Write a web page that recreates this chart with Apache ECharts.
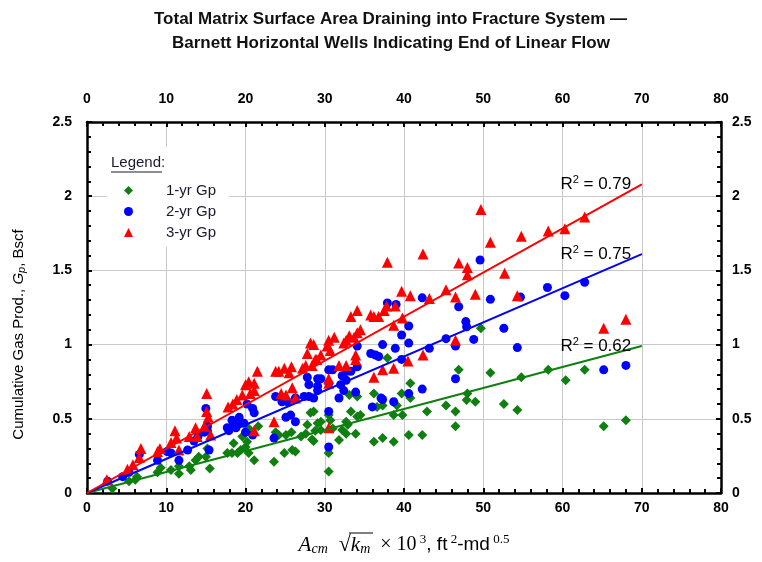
<!DOCTYPE html>
<html>
<head>
<meta charset="utf-8">
<script src="https://cdn.jsdelivr.net/npm/echarts@6/dist/echarts.min.js"></script>
<style>
	html,body{margin:0;padding:0;background:#fff;}
	#GasChart{width:762px;height:562px;}
</style>
</head>
<body>
<div id="GasChart"></div>
<script>
//坐标轴刻度
var xTicks = [0, 80, 10];
var yTicks = [0, 2.5, 0.5];

//1-yr Gp  [x, Gp]
var gp1yr = [
	[3.2,0.03],[5.3,0.08],[6.1,0.09],[6.3,0.11],[8.9,0.14],[9.3,0.17],[10.6,0.155],[11.6,0.13],[11.6,0.18],[12.9,0.18],[13.1,0.155],[13.7,0.22],[14.1,0.245],[15.0,0.245],[15.5,0.165],[15.2,0.30],
	[17.7,0.27],[18.3,0.27],[18.5,0.335],[19.0,0.27],[19.4,0.29],[19.6,0.38],[20.0,0.31],[20.2,0.345],[20.4,0.435],[20.4,0.27],[21.1,0.22],[21.6,0.45],
	[23.6,0.21],[23.8,0.41],[24.2,0.39],[24.9,0.27],[25.1,0.39],[25.8,0.41],[25.9,0.29],[26.3,0.28],[27.0,0.38],[27.6,0.40],[27.8,0.46],[28.2,0.54],[28.4,0.36],[28.8,0.42],[29.1,0.47],[28.6,0.55],[28.6,0.35],[29.5,0.48],[29.5,0.425],
	[30.5,0.525],[30.7,0.49],[31.0,0.435],[31.8,0.357],[32.2,0.425],[32.7,0.48],[32.7,0.40],[32.9,0.46],[33.3,0.55],[33.1,0.66],[33.9,0.40],[34.1,0.515],[34.5,0.525],[34.1,0.65],[30.5,0.27],[30.5,0.145],
	[36.2,0.67],[36.2,0.345],[37.3,0.37],[36.6,0.58],[37.3,0.59],[37.9,0.91],[38.7,0.525],[38.7,0.345],[39.1,0.59],[39.8,0.525],[39.7,0.67],[40.6,0.39],[40.8,0.74],[40.8,0.64],[42.3,0.39],[42.9,0.55],
	[45.3,0.59],[46.5,0.55],[46.5,0.45],[46.9,0.83],[48.0,0.67],[47.9,0.627],[49.0,0.615],[49.7,1.11],[50.9,0.81],[52.6,0.60],[54.3,0.56],[54.8,0.78],[58.2,0.83],[60.4,0.76],[62.8,0.83],[65.2,0.45],[68.0,0.49]
];
//2-yr Gp
var gp2yr = [
	[2.6,0.08],[4.5,0.11],[5.3,0.14],[6.6,0.26],[8.9,0.22],[10.1,0.28],[10.6,0.27],[11.6,0.22],[12.7,0.29],[13.5,0.35],[14.0,0.38],[14.8,0.41],[15.0,0.57],[15.2,0.45],[15.4,0.29],[15.2,0.42],
	[17.7,0.44],[18.3,0.49],[18.8,0.44],[19.2,0.51],[19.8,0.47],[20.2,0.60],[20.9,0.57],[21.1,0.54],[20.9,0.39],[20.0,0.41],[17.9,0.42],[18.5,0.47],[19.2,0.47],
	[23.6,0.37],[23.8,0.65],[24.6,0.615],[25.3,0.615],[25.1,0.51],[25.7,0.525],[26.3,0.48],[26.3,0.64],[27.4,0.65],[27.8,0.78],[28.0,0.73],[28.0,0.65],[28.6,0.64],[29.1,0.72],[29.1,0.77],[29.5,0.77],[29.1,0.69],
	[30.5,0.83],[31.0,0.83],[32.0,0.73],[32.2,0.79],[32.7,0.76],[32.4,0.69],[31.8,0.64],[32.8,0.82],[33.3,0.82],[34.1,0.85],[34.1,0.99],[33.9,0.68],[30.5,0.74],[30.5,0.55],[30.5,0.31],[36.0,0.58],[37.3,0.63],[38.7,0.615],[40.6,0.67],[42.3,0.70],
	[35.8,0.94],[36.4,0.93],[36.8,0.92],[37.3,1.00],[38.9,0.975],[37.9,1.28],[39.0,1.27],[39.7,1.065],[40.6,1.01],[40.6,1.125],[39.7,0.90],[42.3,1.315],[43.2,0.975],[37.1,0.64],
	[45.3,1.04],[46.5,0.99],[46.9,1.255],[47.8,1.155],[46.5,0.77],[47.9,1.12],[48.8,1.035],[49.6,1.57],[50.9,1.305],[52.6,1.11],[54.3,0.98],[54.7,1.32],[58.1,1.385],[60.3,1.33],[62.8,1.42],[65.2,0.83],[68.0,0.86]
];
//3-yr Gp
var gp3yr = [
	[2.5,0.09],[5.1,0.16],[5.8,0.19],[6.6,0.24],[6.8,0.30],[8.9,0.28],[9.2,0.30],[10.6,0.34],[11.1,0.42],[11.3,0.37],[11.6,0.29],[12.9,0.38],[13.7,0.44],[13.9,0.38],[15.1,0.67],[15.1,0.55],[15.3,0.51],[15.6,0.39],[14.8,0.45],
	[17.8,0.58],[18.4,0.60],[18.9,0.63],[19.6,0.66],[20.0,0.73],[20.4,0.75],[21.1,0.74],[21.1,0.42],[21.5,0.82],[20.6,0.67],[21.1,0.69],
	[23.6,0.48],[23.8,0.82],[24.2,0.82],[24.9,0.84],[25.5,0.81],[25.8,0.85],[24.5,0.67],[25.1,0.66],[25.9,0.71],[26.3,0.64],[27.2,0.84],[27.6,0.86],[27.8,0.94],[28.2,1.01],[28.4,0.86],[28.8,0.90],[29.0,0.90],[28.6,1.00],[29.5,0.93],
	[30.3,0.99],[30.5,1.03],[30.7,0.96],[31.2,1.05],[32.4,1.01],[32.7,1.03],[33.1,1.06],[33.7,1.05],[34.1,1.08],[34.5,1.10],[33.3,1.19],[34.1,1.23],[35.8,1.20],[36.2,1.19],[36.8,1.19],[37.5,1.23],[37.8,1.26],[38.9,1.26],
	[37.9,1.555],[42.4,1.61],[39.7,1.36],[40.8,1.33],[43.2,1.31],[38.7,1.13],[39.8,1.18],[33.9,0.93],[33.9,0.90],[31.8,0.86],[32.7,0.86],[36.2,0.78],[37.3,0.83],[38.7,0.84],[40.5,0.89],[42.4,0.93],[30.5,0.77],[30.5,0.74],[30.5,0.44],
	[45.3,1.37],[46.5,1.32],[46.5,1.03],[46.9,1.55],[48.0,1.52],[48.0,1.47],[49.7,1.91],[50.9,1.69],[54.8,1.73],[52.7,1.48],[58.2,1.765],[60.3,1.78],[62.8,1.86],[49.0,1.34],[54.3,1.33],[65.2,1.11],[68.0,1.17]
];

//趋势线 起点/终点
var fit1yr = [[0,0],[70,0.99]];
var fit2yr = [[0,0],[70,1.61]];
var fit3yr = [[0,0],[70,2.08]];
var r2Text = ['0.62', '0.75', '0.79'];

var seriesName = ['1-yr Gp', '2-yr Gp', '3-yr Gp'];
var seriesColor = ['#0f7f0f', '#0000ff', '#ff0000'];
var seriesSymbol = ['diamond', 'circle', 'triangle'];
var symbolSize = [10, 9, 11];

var titleLines = ['Total Matrix Surface Area Draining into Fracture System —', 'Barnett Horizontal Wells Indicating End of Linear Flow'];

var fontSans = 'Arial, "Liberation Sans", sans-serif';
var fontSerif = '"Times New Roman", "Liberation Serif", serif';

// 趋势线, 最后一个点挂 R² 标签
function trendData(arr, r2) {
	return [arr[0], {
		value: arr[1],
		label: {
			show: true,
			position: 'left',
			distance: 10,
			formatter: '{n|R}{s|2}{n| = ' + r2 + '}',
			rich: {
				n: {fontSize: 17, color: '#000', fontFamily: fontSans},
				s: {fontSize: 11, color: '#000', fontFamily: fontSans, padding: [0, 0, 9, 0]}
			}
		}
	}];
}

function axisX(pos, showSplit) {
	return {
		type: 'value', position: pos, min: xTicks[0], max: xTicks[1], interval: xTicks[2],
		axisLine: {show: true, onZero: false, lineStyle: {color: '#000', width: 2.5}},
		axisTick: {show: true, inside: true, length: 5, lineStyle: {color: '#000', width: 2}},
		minorTick: {show: true, splitNumber: 5, length: 4, lineStyle: {color: '#000', width: 2}},
		axisLabel: {color: '#000', fontSize: 14, fontWeight: 'bold', fontFamily: fontSans, margin: pos === 'top' ? 16 : 8},
		splitLine: {show: showSplit, lineStyle: {color: '#c8c8c8', width: 1}}
	};
}

function axisY(pos, showSplit) {
	return {
		type: 'value', position: pos, min: yTicks[0], max: yTicks[1], interval: yTicks[2],
		axisLine: {show: true, onZero: false, lineStyle: {color: '#000', width: 2.5}},
		axisTick: {show: true, inside: true, length: 5, lineStyle: {color: '#000', width: 2}},
		minorTick: {show: true, splitNumber: 5, length: 4, lineStyle: {color: '#000', width: 2}},
		axisLabel: {color: '#000', fontSize: 14, fontWeight: 'bold', fontFamily: fontSans, margin: pos === 'left' ? 15 : 11},
		splitLine: {show: showSplit, lineStyle: {color: '#c8c8c8', width: 1}}
	};
}

var xBottom = axisX('bottom', true);
xBottom.name = '{a|A}{s|cm}{r|  √}{k|k}{s|m}{t|  × 10}{p| 3}{u|, ft}{p| 2}{u|-md}{p| 0.5}';
xBottom.nameLocation = 'middle';
xBottom.nameGap = 40;
xBottom.nameTextStyle = {
	color: '#000',
	rich: {
		a: {fontFamily: fontSerif, fontStyle: 'italic', fontSize: 21, color: '#000'},
		s: {fontFamily: fontSerif, fontStyle: 'italic', fontSize: 14, color: '#000', padding: [9, 0, 0, 0]},
		r: {fontFamily: fontSerif, fontSize: 22, color: '#000'},
		k: {fontFamily: fontSerif, fontStyle: 'italic', fontSize: 21, color: '#000'},
		t: {fontFamily: fontSerif, fontSize: 20, color: '#000'},
		p: {fontFamily: fontSerif, fontSize: 13, color: '#000', padding: [0, 0, 11, 0]},
		u: {fontFamily: fontSans, fontSize: 19, color: '#000'}
	}
};

var yLeft = axisY('left', true);
yLeft.name = '{n|Cumulative Gas Prod., }{g|G}{gs|p}{n|, Bscf}';
yLeft.nameLocation = 'middle';
yLeft.nameGap = 60;
yLeft.nameTextStyle = {
	color: '#000',
	padding: [0, 54, 0, 0],
	rich: {
		n: {fontFamily: fontSans, fontSize: 15, color: '#000'},
		g: {fontFamily: fontSans, fontStyle: 'italic', fontSize: 15, color: '#000'},
		gs: {fontFamily: fontSans, fontStyle: 'italic', fontSize: 11, color: '#000', padding: [6, 0, 0, 0]}
	}
};

var seriesList = [];
var gpData = [gp1yr, gp2yr, gp3yr];
for (var i = 0; i < 3; i++) {
	seriesList.push({
		name: seriesName[i],
		type: 'scatter',
		symbol: seriesSymbol[i],
		symbolSize: symbolSize[i],
		itemStyle: {color: seriesColor[i], opacity: 1},
		data: gpData[i],
		z: 2
	});
}
var fitData = [fit1yr, fit2yr, fit3yr];
for (var j = 0; j < 3; j++) {
	seriesList.push({
		name: 'fit' + j,
		type: 'line',
		symbol: 'circle',
		symbolSize: 1,
		showSymbol: true,
		lineStyle: {color: seriesColor[j], width: 2},
		itemStyle: {color: seriesColor[j]},
		data: trendData(fitData[j], r2Text[j]),
		z: 3
	});
}

var titleStyle = {fontSize: 17, fontWeight: 'bold', color: '#111', fontFamily: fontSans};

var option = {
	animation: false,
	backgroundColor: '#fff',
	title: [
		{text: titleLines[0], left: 154, top: 11, padding: 0, textStyle: titleStyle},
		{text: titleLines[1], left: 172, top: 35, padding: 0, textStyle: titleStyle}
	],
	grid: {left: 87, right: 41, top: 122, bottom: 69},
	legend: {
		orient: 'vertical',
		left: 119,
		top: 178,
		itemWidth: 9,
		itemHeight: 9,
		itemGap: 6,
		symbolKeepAspect: true,
		data: seriesName,
		textStyle: {fontSize: 15, color: '#1a1a2e', fontFamily: fontSans, padding: [0, 0, 0, 28]},
		z: 6
	},
	graphic: [
		{type: 'rect', left: 107, top: 147, z: 5, shape: {width: 122, height: 100}, style: {fill: '#fff'}},
		{type: 'text', left: 111, top: 155, z: 6, style: {text: 'Legend:', fill: '#1a1a2e', font: '15px ' + fontSans}},
		{type: 'line', z: 6, shape: {x1: 111, y1: 172, x2: 162, y2: 172}, style: {stroke: '#1a1a2e', lineWidth: 1.2}},
		// 根号上横线
		{type: 'line', z: 6, shape: {x1: 349, y1: 533, x2: 373, y2: 533}, style: {stroke: '#000', lineWidth: 1}}
	],
	xAxis: [xBottom, axisX('top', false)],
	yAxis: [yLeft, axisY('right', false)],
	series: seriesList
};

var gasChart = echarts.init(document.getElementById('GasChart'));
gasChart.setOption(option);
</script>
</body>
</html>
